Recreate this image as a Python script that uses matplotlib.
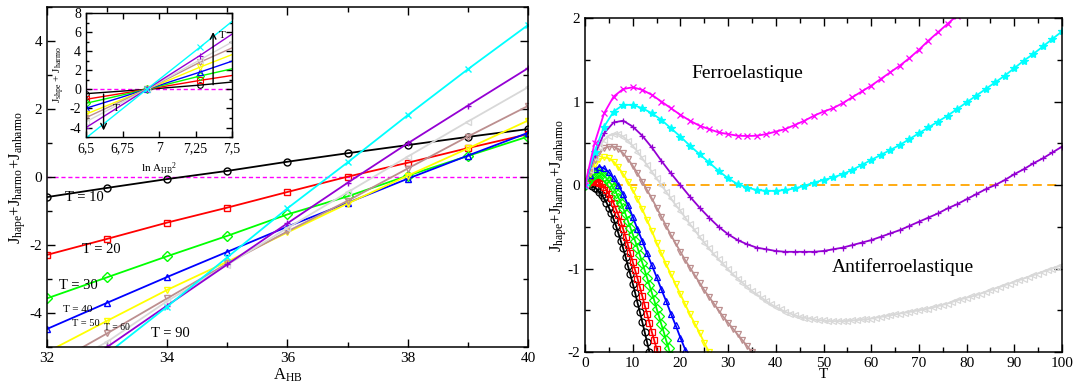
import numpy as np
import matplotlib
matplotlib.use("Agg")
import matplotlib.pyplot as plt
from matplotlib.ticker import MultipleLocator, FixedLocator, FixedFormatter

plt.rcParams["font.family"] = ["Liberation Serif", "DejaVu Serif"]
plt.rcParams["mathtext.fontset"] = "custom"
plt.rcParams["mathtext.rm"] = "Liberation Serif"
plt.rcParams["mathtext.it"] = "Liberation Serif:italic"
plt.rcParams["axes.unicode_minus"] = False

# ---------------- left panel: J vs A_HB for several T ----------------
A_HB = [32, 33, 34, 35, 36, 37, 38, 39, 40]
T_LEFT = [10, 20, 30, 40, 50, 60, 70, 80, 90]
J_T10 = [-0.59, -0.32, -0.06, 0.18, 0.45, 0.70, 0.94, 1.18, 1.41]
J_T20 = [-2.29, -1.82, -1.34, -0.90, -0.44, 0.01, 0.42, 0.85, 1.26]
J_T30 = [-3.57, -2.95, -2.33, -1.73, -1.10, -0.57, 0.04, 0.62, 1.19]
J_T40 = [-4.47, -3.70, -2.94, -2.20, -1.46, -0.76, -0.05, 0.63, 1.30]
J_T50 = [-5.15, -4.23, -3.32, -2.49, -1.63, -0.78, 0.04, 0.84, 1.66]
J_T60 = [-5.60, -4.60, -3.57, -2.54, -1.60, -0.70, 0.25, 1.19, 2.09]
J_T70 = [-5.80, -4.85, -3.65, -2.58, -1.50, -0.45, 0.60, 1.63, 2.64]
J_T80 = [-6.20, -5.00, -3.78, -2.57, -1.36, -0.17, 0.99, 2.10, 3.20]
J_T90 = [-6.60, -5.20, -3.81, -2.36, -0.92, 0.43, 1.82, 3.17, 4.47]

# inset: J vs ln A_HB^2 (linear fits)
LN_A2 = [6.5, 6.915, 7.28, 7.5]
INSET_J = [
    [-0.45, 0.0, 0.45, 0.77],
    [-1.04, 0.0, 0.94, 1.46],
    [-1.46, 0.0, 1.40, 2.16],
    [-1.98, 0.0, 1.81, 2.96],
    [-2.60, 0.0, 2.33, 3.65],
    [-2.96, 0.0, 2.85, 4.35],
    [-3.40, 0.0, 3.10, 4.97],
    [-4.00, 0.0, 3.55, 5.80],
    [-5.10, 0.0, 4.42, 7.13],
]

# ---------------- right panel: J vs T for several A_HB ----------------
J_BLACK = [0.00, 0.01, 0.01, -0.01, -0.03, -0.05, -0.08, -0.12, -0.16, -0.21,
           -0.27, -0.34, -0.41, -0.49, -0.58, -0.67, -0.76, -0.86, -0.97, -1.07,
           -1.18, -1.29, -1.41, -1.52, -1.64, -1.76, -1.88, -2.00, -2.12]
J_RED = [0.00, 0.02, 0.04, 0.05, 0.05, 0.04, 0.03, 0.01, -0.02, -0.06,
         -0.11, -0.16, -0.22, -0.29, -0.36, -0.44, -0.53, -0.62, -0.72, -0.82,
         -0.92, -1.02, -1.12, -1.22, -1.33, -1.44, -1.54, -1.65, -1.76, -1.86,
         -1.96, -2.07]
J_GREEN = [0.00, 0.04, 0.08, 0.11, 0.13, 0.14, 0.14, 0.13, 0.11, 0.08,
           0.04, 0.01, -0.04, -0.09, -0.15, -0.21, -0.28, -0.35, -0.43, -0.51,
           -0.59, -0.67, -0.75, -0.84, -0.93, -1.02, -1.11, -1.20, -1.29, -1.38,
           -1.48, -1.57, -1.67, -1.76, -1.86, -1.95, -2.05]
J_BLUE = [0.00, 0.12, 0.19, 0.22, 0.20, 0.15, 0.08, 0.00, -0.11, -0.24,
          -0.38, -0.53, -0.67, -0.82, -0.96, -1.10, -1.25, -1.39, -1.54, -1.68,
          -1.83, -1.97, -2.12]
J_YELLOW = [0.00, 0.14, 0.25, 0.31, 0.33, 0.32, 0.28, 0.21, 0.13, 0.04,
            -0.06, -0.17, -0.29, -0.42, -0.55, -0.69, -0.82, -0.95, -1.07, -1.19,
            -1.31, -1.43, -1.55, -1.66, -1.77, -1.89, -2.00, -2.11]
J_BROWN = [0.00, 0.16, 0.30, 0.39, 0.44, 0.46, 0.46, 0.43, 0.38, 0.31,
           0.23, 0.14, 0.04, -0.06, -0.16, -0.27, -0.38, -0.49, -0.60, -0.70,
           -0.80, -0.90, -0.99, -1.08, -1.17, -1.26, -1.34, -1.42, -1.50, -1.58,
           -1.65, -1.72, -1.79, -1.86, -1.93, -2.00, -2.07]
J_GREY = [0.00, 0.18, 0.34, 0.46, 0.54, 0.59, 0.61, 0.61, 0.58, 0.53,
          0.47, 0.40, 0.32, 0.24, 0.16, 0.08, 0.00, -0.08, -0.16, -0.24,
          -0.31, -0.39, -0.47, -0.54, -0.62, -0.69, -0.76, -0.83, -0.89, -0.95,
          -1.01, -1.07, -1.12, -1.17, -1.22, -1.27, -1.31, -1.35, -1.39, -1.43,
          -1.46, -1.49, -1.52, -1.54, -1.56, -1.58, -1.59, -1.60, -1.61, -1.62,
          -1.62, -1.63, -1.63, -1.63, -1.63, -1.63, -1.62, -1.62, -1.61, -1.61,
          -1.60, -1.59, -1.58, -1.57, -1.56, -1.55, -1.54, -1.53, -1.52, -1.51,
          -1.50, -1.49, -1.48, -1.465, -1.45, -1.435, -1.42, -1.40, -1.38, -1.365,
          -1.35, -1.335, -1.32, -1.30, -1.28, -1.26, -1.24, -1.22, -1.20, -1.18,
          -1.16, -1.14, -1.12, -1.10, -1.08, -1.06, -1.04, -1.02, -1.00, -0.98,
          -0.96]
J_PURPLE = [0.00, 0.36, 0.62, 0.75, 0.77, 0.70, 0.59, 0.45, 0.29, 0.14,
            0.00, -0.14, -0.27, -0.39, -0.50, -0.59, -0.66, -0.71, -0.75, -0.77,
            -0.79, -0.80, -0.80, -0.80, -0.80, -0.79, -0.77, -0.75, -0.72, -0.69,
            -0.66, -0.62, -0.58, -0.54, -0.49, -0.44, -0.39, -0.34, -0.28, -0.23,
            -0.17, -0.11, -0.05, 0.00, 0.06, 0.13, 0.19, 0.26, 0.32, 0.39,
            0.46]
J_CYAN = [0.00, 0.40, 0.70, 0.88, 0.96, 0.96, 0.92, 0.86, 0.78, 0.68,
          0.58, 0.47, 0.37, 0.27, 0.17, 0.08, 0.01, -0.03, -0.06, -0.07,
          -0.07, -0.06, -0.04, -0.01, 0.03, 0.06, 0.09, 0.13, 0.18, 0.24,
          0.30, 0.36, 0.42, 0.48, 0.55, 0.62, 0.69, 0.76, 0.83, 0.91,
          0.99, 1.07, 1.15, 1.23, 1.31, 1.40, 1.49, 1.57, 1.66, 1.75,
          1.84]
J_MAGENTA = [0.00, 0.50, 0.86, 1.06, 1.15, 1.17, 1.14, 1.08, 1.00, 0.92,
             0.84, 0.77, 0.71, 0.67, 0.63, 0.61, 0.59, 0.587, 0.59, 0.61,
             0.64, 0.67, 0.72, 0.77, 0.83, 0.88, 0.92, 0.98, 1.05, 1.12,
             1.19, 1.27, 1.35, 1.43, 1.52, 1.62, 1.73, 1.83, 1.93, 2.03,
             2.14]

RIGHT_CURVES = [
    (J_BLACK, 0.5, "black", "o"),
    (J_RED, 0.5, "#ff0000", "s"),
    (J_GREEN, 0.5, "#00ff00", "D"),
    (J_BLUE, 1.0, "#0000ff", "^"),
    (J_YELLOW, 1.0, "#ffff00", "v"),
    (J_BROWN, 1.0, "#bc8f8f", "v"),
    (J_GREY, 1.0, "#d8d8d8", "<"),
    (J_PURPLE, 2.0, "#9400d3", "+"),
    (J_CYAN, 2.0, "#00ffff", "*"),
    (J_MAGENTA, 2.0, "#ff00ff", "x"),
]

COLORS = ["black", "#ff0000", "#00ff00", "#0000ff", "#ffff00",
          "#bc8f8f", "#d8d8d8", "#9400d3", "#00ffff"]
MARKERS = ["o", "s", "D", "^", "v", "v", "<", "+", "x"]


def style_axes(ax, lw=1.1):
    for s in ax.spines.values():
        s.set_linewidth(lw)
    ax.tick_params(which="both", direction="in", top=True, right=True,
                   labelsize=11)
    ax.tick_params(which="major", length=6, width=1.0)
    ax.tick_params(which="minor", length=3.5, width=1.0)


fig = plt.figure(figsize=(10.77, 3.85), dpi=100)

# ---- left ----
ax1 = fig.add_axes([0.0436, 0.0987, 0.4466, 0.883])
ax1.axhline(0, color="#ff00ff", ls=(0, (3, 2)), lw=1.0, zorder=1)
series = [J_T10, J_T20, J_T30, J_T40, J_T50, J_T60, J_T70, J_T80, J_T90]
for J, c, m in zip(series, COLORS, MARKERS):
    ax1.plot(A_HB, J, color=c, lw=1.3, marker=m, ms=5, mfc="none", mec=c,
             mew=1.0)
ax1.set_xlim(32, 40)
ax1.set_ylim(-5, 5)
ax1.xaxis.set_major_locator(MultipleLocator(2))
ax1.xaxis.set_minor_locator(MultipleLocator(1))
ax1.yaxis.set_major_locator(FixedLocator([-4, -2, 0, 2, 4]))
ax1.yaxis.set_minor_locator(MultipleLocator(1))
style_axes(ax1)
ax1.set_xlabel(r"A$_{\rm HB}$", fontsize=12, labelpad=1)
ax1.set_ylabel(r"J$_{\rm hape}$+J$_{\rm harmo}$+J$_{\rm anharmo}$",
               fontsize=12, labelpad=1)

t_labels = [(32.30, -0.59, "T = 10", 10.5), (32.58, -2.12, "T = 20", 10.5),
            (32.20, -3.18, "T = 30", 10.5), (32.27, -3.91, "T = 40", 8),
            (32.42, -4.30, "T = 50", 7.5), (32.95, -4.44, "T = 60", 7),
            (33.73, -4.59, "T = 90", 10.5)]
for x, y, s, fs in t_labels:
    ax1.text(x, y, s, fontsize=fs, ha="left", va="center")

# ---- inset ----
ax_in = fig.add_axes([0.0799, 0.644, 0.1356, 0.322])
ax_in.axhline(0, color="#ff00ff", ls=(0, (3, 2)), lw=1.0, zorder=1)
for J, c, m in zip(INSET_J, COLORS, MARKERS):
    ax_in.plot(LN_A2, J, color=c, lw=1.0, marker=m, ms=4, mfc="none",
               mec=c, mew=0.8, markevery=[0, 1, 2])
ax_in.annotate("", xy=(7.37, 6.3), xytext=(7.37, 0.2),
               arrowprops=dict(arrowstyle="->", lw=1.0, color="black"))
ax_in.annotate("", xy=(6.62, -4.6), xytext=(6.62, -0.2),
               arrowprops=dict(arrowstyle="->", lw=1.0, color="black"))
ax_in.text(7.41, 5.6, "T", fontsize=8, ha="left", va="center")
ax_in.text(6.68, -2.0, "T", fontsize=8, ha="left", va="center")
ax_in.set_xlim(6.5, 7.5)
ax_in.set_ylim(-5, 8)
ax_in.xaxis.set_major_locator(FixedLocator([6.5, 6.75, 7.0, 7.25, 7.5]))
ax_in.xaxis.set_major_formatter(FixedFormatter(["6,5", "6,75", "7", "7,25", "7,5"]))
ax_in.yaxis.set_major_locator(FixedLocator([-4, -2, 0, 2, 4, 6, 8]))
ax_in.yaxis.set_minor_locator(MultipleLocator(1))
style_axes(ax_in, lw=1.0)
ax_in.tick_params(labelsize=10)
ax_in.tick_params(which="major", length=4)
ax_in.tick_params(which="minor", length=2.5)
ax_in.set_xlabel(r"ln A$_{\rm HB}{}^{2}$", fontsize=8, labelpad=4)
ax_in.set_ylabel(r"J$_{\rm shpe}$ + J$_{\rm harmo}$", fontsize=8, labelpad=2)

# ---- right ----
ax2 = fig.add_axes([0.5432, 0.0857, 0.4429, 0.8675])
ax2.axhline(0, color="#ffa500", ls=(0, (5, 3)), lw=1.3, zorder=1)
for J, step, c, m in RIGHT_CURVES:
    T = step * np.arange(len(J))
    filled = m in ("*", "+", "x")
    ax2.plot(T, J, color=c, lw=1.3, marker=m, ms=5 if m != "*" else 6,
             mfc=c if filled else "none", mec=c, mew=0.9)
ax2.set_xlim(0, 100)
ax2.set_ylim(-2, 2)
ax2.xaxis.set_major_locator(MultipleLocator(10))
ax2.xaxis.set_minor_locator(MultipleLocator(5))
ax2.yaxis.set_major_locator(MultipleLocator(1))
ax2.yaxis.set_minor_locator(MultipleLocator(0.5))
style_axes(ax2)
ax2.set_xlabel("T", fontsize=11, labelpad=-1)
ax2.set_ylabel(r"J$_{\rm hape}$+J$_{\rm harmo}$+J$_{\rm anharmo}$",
               fontsize=12, labelpad=-1)
ax2.text(22.4, 1.33, "Ferroelastique", fontsize=14, ha="left", va="center")
ax2.text(51.8, -0.98, "Antiferroelastique", fontsize=14, ha="left",
         va="center")

fig.savefig("out.png", dpi=100)
